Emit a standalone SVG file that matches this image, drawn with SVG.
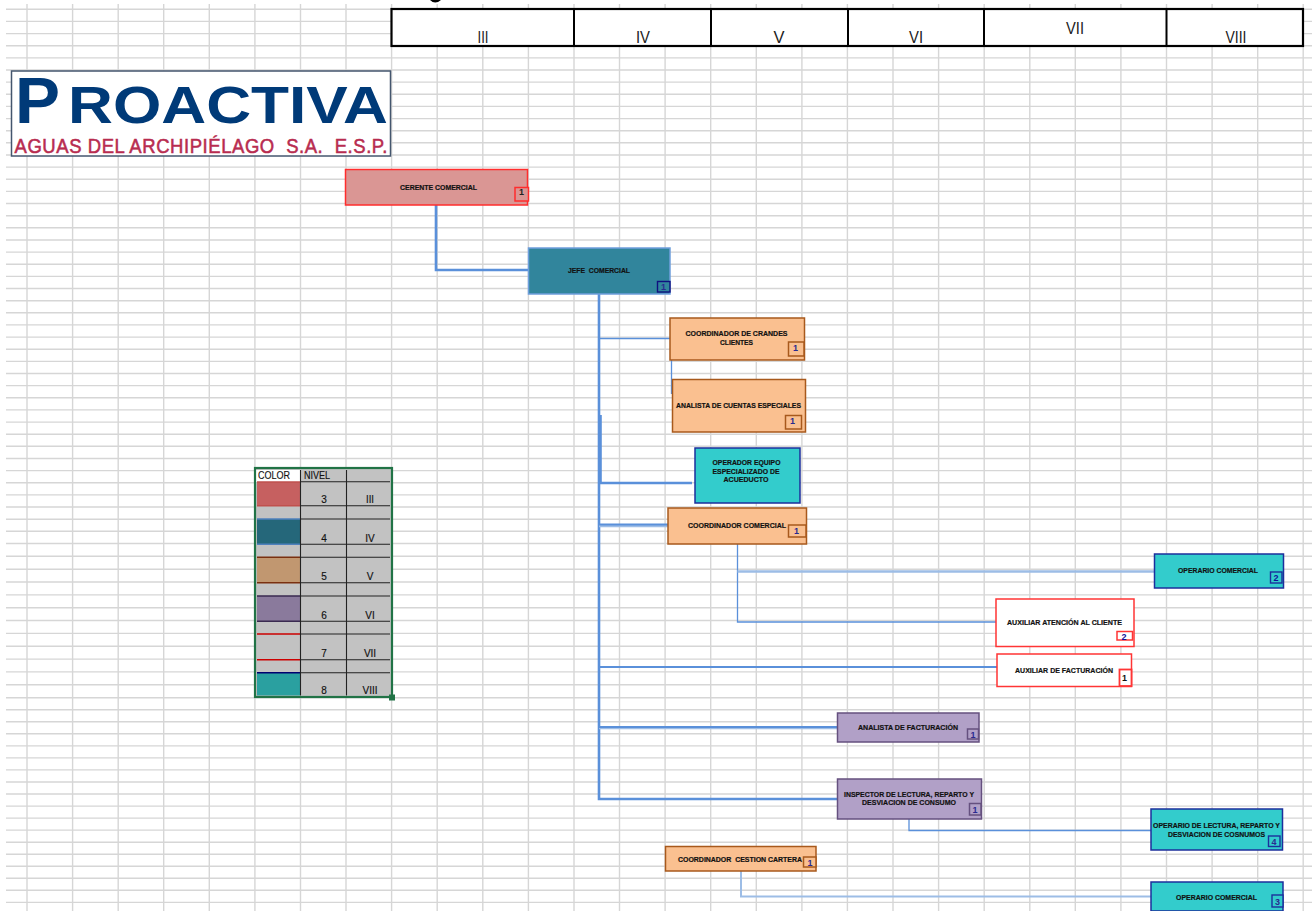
<svg xmlns="http://www.w3.org/2000/svg" width="1312" height="911" viewBox="0 0 1312 911">
<style>
text{font-family:"Liberation Sans",Arial,sans-serif;text-anchor:middle;white-space:pre}
.grid{fill:none;stroke:#d6d6d6;stroke-width:1.4}
.lbl{font-size:7.5px;font-weight:bold;fill:#111;stroke:#111;stroke-width:.2}
.num{font-size:9px;font-weight:bold;fill:#2a2a90}
.hdr{font-size:17px;fill:#222}
.leg{font-size:10px;fill:#111;stroke:#111;stroke-width:.15}
.box{stroke-width:1.5}
.red{fill:#da9694;stroke:#ff2d2d}
.teal{fill:#31859c;stroke:#6f9fdc}
.org{fill:#fac090;stroke:#a8591c}
.cy{fill:#33cccc;stroke:#1c2f9c}
.wht{fill:#fff;stroke:#ff3535}
.pur{fill:#b1a0c7;stroke:#65507f}
.c{fill:none;stroke:#5a90da}
.t1{stroke-width:1.3}.t2{stroke-width:2}.t3{stroke-width:2.6}
.lt{fill:none;stroke:#9dbde6;stroke-width:2.6}
.ll{fill:none;stroke:#222;stroke-width:1.1}
</style>
<rect width="1312" height="911" fill="#fff"/>
<path class="grid" d="M6 9.3H1312M6 21.4H1312M6 33.6H1312M6 45.7H1312M6 57.9H1312M6 70H1312M6 82.1H1312M6 94.3H1312M6 106.4H1312M6 118.6H1312M6 130.7H1312M6 142.8H1312M6 155H1312M6 167.1H1312M6 179.3H1312M6 191.4H1312M6 203.5H1312M6 215.7H1312M6 227.8H1312M6 240H1312M6 252.1H1312M6 264.2H1312M6 276.4H1312M6 288.5H1312M6 300.7H1312M6 312.8H1312M6 324.9H1312M6 337.1H1312M6 349.2H1312M6 361.4H1312M6 373.5H1312M6 385.6H1312M6 397.8H1312M6 409.9H1312M6 422.1H1312M6 434.2H1312M6 446.3H1312M6 458.5H1312M6 470.6H1312M6 482.8H1312M6 494.9H1312M6 507H1312M6 519.2H1312M6 531.3H1312M6 543.5H1312M6 556.3H1312M6 569.2H1312M6 582H1312M6 594.9H1312M6 607.7H1312M6 620.5H1312M6 633.4H1312M6 646.2H1312M6 659.1H1312M6 671.9H1312M6 684.8H1312M6 697.7H1312M6 709.7H1312M6 721.8H1312M6 733.8H1312M6 745.9H1312M6 757.9H1312M6 769.9H1312M6 782H1312M6 794H1312M6 806.1H1312M6 818.1H1312M6 830.1H1312M6 842.2H1312M6 854.2H1312M6 866.3H1312M6 878.3H1312M6 890.3H1312M6 902.4H1312"/>
<path class="grid" d="M27 4V911M72.6 4V911M118.2 4V911M163.7 4V911M209.3 4V911M254.9 4V911M300.5 4V911M346 4V911M391.6 4V911M437.2 4V911M482.8 4V911M528.4 4V911M574 4V911M619.5 4V911M665.1 4V911M710.7 4V911M756.3 4V911M801.9 4V911M847.4 4V911M893 4V911M938.6 4V911M984.2 4V911M1029.8 4V911M1075.3 4V911M1120.9 4V911M1166.5 4V911M1212.1 4V911M1257.7 4V911M1303.2 4V911"/>

<g id="level-header">
<rect x="391.5" y="9" width="911.5" height="37" fill="#fff" stroke="#000" stroke-width="2.2"/>
<path d="M574 9V46M711 9V46M848 9V46M984 9V46M1166.5 9V46" fill="none" stroke="#000" stroke-width="2"/>
<text class="hdr" x="483" y="43" textLength="11" lengthAdjust="spacingAndGlyphs">III</text>
<text class="hdr" x="643" y="43" textLength="14" lengthAdjust="spacingAndGlyphs">IV</text>
<text class="hdr" x="779" y="43" textLength="11" lengthAdjust="spacingAndGlyphs">V</text>
<text class="hdr" x="916" y="43" textLength="14" lengthAdjust="spacingAndGlyphs">VI</text>
<text class="hdr" x="1075" y="34" textLength="18" lengthAdjust="spacingAndGlyphs">VII</text>
<text class="hdr" x="1236" y="43" textLength="21" lengthAdjust="spacingAndGlyphs">VIII</text>
<path d="M430 0Q435 5 441 0Z" fill="#000"/>
</g>

<g id="logo">
<rect x="11.5" y="71" width="379" height="85" fill="#fff" stroke="#44566e" stroke-width="1.5"/>
<text x="37.5" y="122.5" font-size="65" font-weight="bold" fill="#003a78" textLength="45" lengthAdjust="spacingAndGlyphs">P</text>
<text x="228" y="122.5" font-size="51" font-weight="bold" fill="#003a78" textLength="320" lengthAdjust="spacingAndGlyphs">ROACTIVA</text>
<text transform="translate(201 153) scale(1 1.12)" font-size="18.5" fill="#b82c50" stroke="#b82c50" stroke-width=".5" textLength="373">AGUAS DEL ARCHIPIÉLAGO  S.A.  E.S.P.</text>
</g>

<g id="legend">
<rect x="255" y="468" width="137" height="229" fill="#c2c2c2"/>
<rect x="256" y="470" width="44" height="12" fill="#fff"/>
<rect x="257" y="482" width="43" height="24" fill="#c66060"/>
<rect x="257" y="519" width="43" height="25" fill="#25677a"/>
<rect x="257" y="557" width="43" height="26" fill="#c19770"/>
<rect x="257" y="596" width="43" height="25" fill="#8a7a9c"/>
<rect x="257" y="673" width="43" height="22.5" fill="#2aa0a0"/>
<path fill="none" stroke="#c0504d" stroke-width="1.4" d="M257 482H300M257 505.7H300"/>
<path fill="none" stroke="#4f81bd" stroke-width="1.6" d="M257 519H300M257 544.3H300"/>
<path fill="none" stroke="#7a3010" stroke-width="1.6" d="M257 557.3H300M257 582.7H300"/>
<path fill="none" stroke="#3a2a50" stroke-width="1.6" d="M257 596H300M257 621.3H300"/>
<path fill="none" stroke="#cc0000" stroke-width="1.6" d="M257 634H300M257 659.7H300"/>
<path fill="none" stroke="#000070" stroke-width="1.6" d="M257 672.7H300"/>
<path class="ll" d="M300.5 470V695.5M346.5 470V695.5M300 481.7H390M300 505.7H390M300 519H390M300 544.3H390M300 557.3H390M300 582.7H390M300 596H390M300 621.3H390M300 634H390M300 659.7H390M300 672.7H390"/>
<rect x="255" y="468" width="137" height="229" fill="none" stroke="#217346" stroke-width="2.2"/>
<rect x="389" y="694.5" width="6" height="6" fill="#217346"/>
<text class="leg" x="274" y="479" textLength="32" lengthAdjust="spacingAndGlyphs">COLOR</text>
<text class="leg" x="317" y="479" textLength="26" lengthAdjust="spacingAndGlyphs">NIVEL</text>
<text class="leg" x="324" y="503">3</text><text class="leg" x="370" y="503" textLength="8" lengthAdjust="spacingAndGlyphs">III</text>
<text class="leg" x="324" y="542">4</text><text class="leg" x="370" y="542">IV</text>
<text class="leg" x="324" y="580">5</text><text class="leg" x="370" y="580">V</text>
<text class="leg" x="324" y="619">6</text><text class="leg" x="370" y="619">VI</text>
<text class="leg" x="324" y="657">7</text><text class="leg" x="370" y="657">VII</text>
<text class="leg" x="324" y="694">8</text><text class="leg" x="370" y="694">VIII</text>
</g>

<g id="connectors">
<path class="c t3" d="M436 205V270H528"/>
<path class="c t3" d="M599 294V799H838"/>
<path class="c t3" d="M600.5 415V483H692"/>
<path class="c t1" d="M599 338.5H670M671.5 360V394"/>
<path class="lt" d="M599 526H668"/>
<path class="c t2" d="M599 524.5H668"/>
<path class="c t1" d="M737.5 544V622H996"/>
<path class="lt" d="M737.5 571.5H1155"/>
<path class="c t2" d="M599 667H997"/>
<path class="lt" d="M599 728H838"/>
<path class="c t2" d="M599 727H838"/>
<path class="c t1" d="M909 819V830.5H1151"/>
<path class="lt" d="M741 871V896.5H1151" style="stroke-width:2"/>
</g>

<g id="n-gerente"><rect class="box red" x="345.5" y="169.5" width="182" height="35.5"/><rect class="box red" x="515" y="187.5" width="13.5" height="13.5" fill="none"/><text class="lbl" x="438.5" y="190" textLength="77" lengthAdjust="spacingAndGlyphs">CERENTE COMERCIAL</text><text class="num" x="521.5" y="195" style="fill:#222">1</text></g>
<g id="n-jefe"><rect class="box teal" x="528.5" y="248" width="141.5" height="46"/><rect x="657.5" y="281.5" width="12.5" height="10.5" fill="#31859c" stroke="#101080" stroke-width="1.4"/><text class="lbl" x="599" y="273" textLength="62" lengthAdjust="spacingAndGlyphs">JEFE  COMERCIAL</text><text class="num" x="663.5" y="290">1</text></g>
<g id="n-grandes"><rect class="box org" x="670" y="318" width="134.5" height="42"/><rect class="box org" x="788.5" y="342" width="15.5" height="14"/><text class="lbl" x="736.5" y="336" textLength="102" lengthAdjust="spacingAndGlyphs">COORDINADOR DE CRANDES</text><text class="lbl" x="736.5" y="345" textLength="33" lengthAdjust="spacingAndGlyphs">CLIENTES</text><text class="num" x="795.5" y="350.5">1</text></g>
<g id="n-cuentas"><rect class="box org" x="672.5" y="379.5" width="133" height="52.5"/><rect class="box org" x="785.5" y="415.5" width="16" height="13.5"/><text class="lbl" x="738.5" y="408" textLength="125" lengthAdjust="spacingAndGlyphs">ANALISTA DE CUENTAS ESPECIALES</text><text class="num" x="792.5" y="423.5">1</text></g>
<g id="n-operador"><rect class="box cy" x="695" y="448" width="105" height="55"/><text class="lbl" x="746.5" y="465" textLength="68" lengthAdjust="spacingAndGlyphs">OPERADOR EQUIPO</text><text class="lbl" x="746" y="474" textLength="67" lengthAdjust="spacingAndGlyphs">ESPECIALIZADO DE</text><text class="lbl" x="746" y="482" textLength="45" lengthAdjust="spacingAndGlyphs">ACUEDUCTO</text></g>
<g id="n-coord-comercial"><rect class="box org" x="668" y="508" width="138.5" height="36"/><rect class="box org" x="788.5" y="525" width="17.5" height="12"/><text class="lbl" x="737" y="528" textLength="98" lengthAdjust="spacingAndGlyphs">COORDINADOR COMERCIAL</text><text class="num" x="796.5" y="534">1</text></g>
<g id="n-operario-1"><rect class="box cy" x="1154.5" y="554" width="129" height="34"/><rect x="1270.5" y="572" width="11.5" height="11" fill="#33cccc" stroke="#1c2f9c" stroke-width="1.4"/><text class="lbl" x="1218" y="572.5" textLength="80" lengthAdjust="spacingAndGlyphs">OPERARIO COMERCIAL</text><text class="num" x="1276" y="581" style="fill:#10109a">2</text></g>
<g id="n-atencion"><rect class="box wht" x="996" y="599" width="138" height="47.5"/><rect class="box wht" x="1117" y="631.5" width="15.5" height="8.5"/><text class="lbl" x="1064.5" y="625" textLength="115" lengthAdjust="spacingAndGlyphs">AUXILIAR ATENCIÓN AL CLIENTE</text><text class="num" x="1124" y="639.5" style="fill:#10109a">2</text></g>
<g id="n-facturacion-aux"><rect class="box wht" x="997" y="654" width="134.5" height="32.5"/><rect class="box wht" x="1119.5" y="669.5" width="12" height="16.5" style="stroke-width:1.8"/><text class="lbl" x="1064" y="672.5" textLength="98" lengthAdjust="spacingAndGlyphs">AUXILIAR DE FACTURACIÓN</text><text class="num" x="1124.5" y="680.5" style="fill:#111">1</text></g>
<g id="n-analista-fact"><rect class="box pur" x="837.5" y="713" width="141.5" height="29"/><rect class="box pur" x="967.5" y="729" width="11" height="10"/><text class="lbl" x="908" y="730" textLength="100" lengthAdjust="spacingAndGlyphs">ANALISTA DE FACTURACIÓN</text><text class="num" x="973" y="737.5">1</text></g>
<g id="n-inspector"><rect class="box pur" x="837.5" y="779" width="144" height="40"/><rect class="box pur" x="969.5" y="803.5" width="11.5" height="11.5"/><text class="lbl" x="909" y="796.5" textLength="130" lengthAdjust="spacingAndGlyphs">INSPECTOR DE LECTURA, REPARTO Y</text><text class="lbl" x="909" y="805" textLength="94" lengthAdjust="spacingAndGlyphs">DESVIACION DE CONSUMO</text><text class="num" x="975" y="812.5">1</text></g>
<g id="n-cartera"><rect class="box org" x="665.5" y="846.5" width="150.5" height="24.5"/><rect class="box org" x="803.5" y="857" width="12.5" height="10"/><text class="lbl" x="740" y="862" style="font-size:6.8px" textLength="124" lengthAdjust="spacingAndGlyphs">COORDINADOR  CESTION CARTERA</text><text class="num" x="810" y="865.5">1</text></g>
<g id="n-operario-lectura"><rect class="box cy" x="1151" y="809" width="131.5" height="41"/><rect x="1268.5" y="836" width="11.5" height="10.5" fill="#33cccc" stroke="#1c2f9c" stroke-width="1.4"/><text class="lbl" x="1216.5" y="828" textLength="127" lengthAdjust="spacingAndGlyphs">OPERARIO DE LECTURA, REPARTO Y</text><text class="lbl" x="1216.5" y="837" textLength="97" lengthAdjust="spacingAndGlyphs">DESVIACION DE COSNUMOS</text><text class="num" x="1274" y="844.5">4</text></g>
<g id="n-operario-3"><rect class="box cy" x="1151" y="882" width="132" height="29"/><rect x="1272" y="895" width="11" height="12" fill="#33cccc" stroke="#1c2f9c" stroke-width="1.4"/><text class="lbl" x="1216.5" y="899.5" textLength="81" lengthAdjust="spacingAndGlyphs">OPERARIO COMERCIAL</text><text class="num" x="1277.5" y="904.5">3</text></g>
</svg>
